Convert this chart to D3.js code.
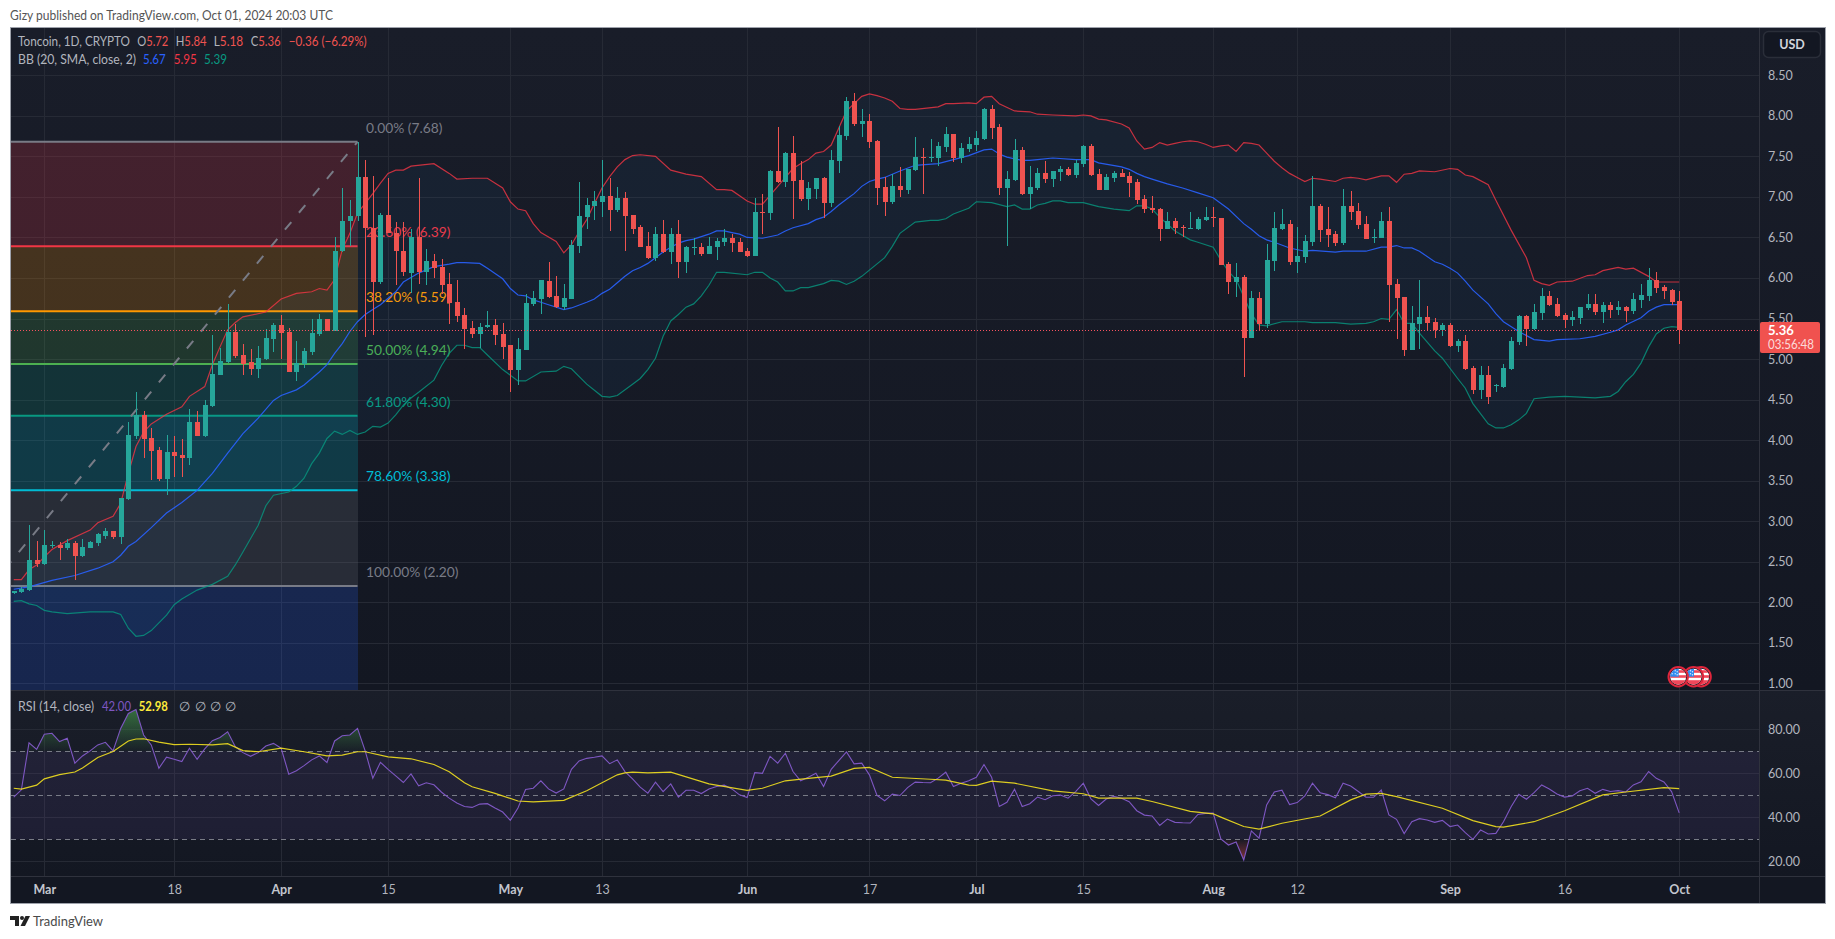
<!DOCTYPE html>
<html><head><meta charset="utf-8">
<script src="https://cdnjs.cloudflare.com/ajax/libs/d3/7.8.5/d3.min.js"></script>
<style>
html,body{margin:0;padding:0;background:#fff;overflow:hidden}
svg{display:block}
text{font-family:Lato,"Noto Sans",sans-serif}
</style></head><body><svg id="c" width="1835" height="939"></svg>
<script>
// ---------- values ----------
const firstCandleDay = -4;            // days relative to 1 Mar 2024
const opens = [
2.11,2.13,2.15,2.52,2.47,2.70,2.71,2.67,2.73,2.57,
2.67,2.73,2.82,2.88,2.81,3.27,4.05,4.31,4.03,3.88,
3.52,3.85,3.82,3.78,4.22,4.05,4.42,4.80,4.96,5.33,
5.05,4.96,4.88,5.00,5.25,5.42,5.33,4.84,4.94,5.09,
5.31,5.49,5.35,6.33,6.70,6.76,7.25,6.62,5.95,6.78,
6.56,6.33,6.06,6.50,6.07,6.21,6.13,5.93,5.70,5.54,
5.38,5.31,5.39,5.42,5.31,5.17,4.87,5.11,5.68,5.74,
5.96,5.78,5.64,5.74,6.39,6.75,6.89,6.94,7.01,6.84,
6.99,6.78,6.63,6.39,6.25,6.54,6.32,6.54,6.20,6.37,
6.38,6.30,6.38,6.44,6.49,6.44,6.33,6.27,6.81,6.80,
7.32,7.18,7.54,7.21,6.97,7.10,7.23,6.93,7.44,7.75,
8.18,7.90,7.94,7.69,7.12,6.94,7.13,7.09,7.33,7.49,
7.48,7.48,7.62,7.78,7.48,7.59,7.64,7.71,8.08,7.86,
7.11,7.21,7.58,7.04,7.11,7.30,7.22,7.31,7.34,7.27,
7.41,7.63,7.28,7.09,7.23,7.30,7.26,7.18,6.97,6.86,
6.85,6.60,6.70,6.63,6.61,6.60,6.72,6.75,6.74,6.17,
5.95,6.01,5.26,5.75,5.43,6.21,6.60,6.67,6.20,6.26,
6.44,6.89,6.60,6.54,6.43,6.89,6.83,6.67,6.49,6.49,
6.70,5.93,5.77,5.11,5.43,5.52,5.46,5.36,5.42,5.16,
5.22,4.89,4.62,4.80,4.67,4.66,4.88,5.21,5.53,5.37,
5.57,5.78,5.68,5.54,5.48,5.51,5.63,5.68,5.58,5.67,
5.61,5.64,5.59,5.73,5.78,5.98,5.89,5.85,5.72];
const highs = [
2.14,2.19,2.95,2.76,2.89,2.76,2.74,2.78,2.76,2.78,
2.76,2.85,2.91,2.88,3.28,4.22,4.59,4.36,4.15,3.92,
4.06,4.05,4.01,4.38,4.36,4.49,5.30,5.13,5.68,5.43,
5.19,5.12,5.16,5.37,5.44,5.54,5.38,5.22,5.14,5.49,
5.56,5.49,6.50,7.11,6.96,7.68,7.46,7.26,6.80,7.23,
6.69,6.69,6.60,7.23,6.36,6.29,6.23,6.06,5.98,5.63,
5.47,5.44,5.59,5.49,5.44,5.17,5.26,5.80,5.84,5.98,
6.20,6.02,5.93,6.47,7.18,6.99,7.07,7.46,7.23,7.12,
7.06,6.78,6.65,6.57,6.63,6.72,6.62,6.72,6.40,6.49,
6.43,6.51,6.49,6.60,6.54,6.49,6.37,6.99,7.04,7.33,
7.86,7.55,7.75,7.44,7.18,7.23,7.25,7.58,7.87,8.23,
8.28,8.08,8.02,7.70,7.24,7.28,7.37,7.34,7.74,7.60,
7.71,7.68,7.86,7.78,7.67,7.74,7.81,8.10,8.13,7.90,
7.32,7.71,7.62,7.38,7.36,7.44,7.32,7.38,7.37,7.46,
7.64,7.65,7.34,7.28,7.32,7.34,7.31,7.22,7.02,7.01,
6.86,6.81,6.74,6.65,6.81,6.75,6.88,6.88,6.74,6.20,
6.19,6.04,5.84,5.83,6.42,6.81,6.85,6.72,6.63,6.53,
7.26,6.91,6.88,6.58,7.10,7.07,6.93,6.77,6.60,6.81,
6.88,5.99,5.77,5.66,5.98,5.66,5.51,5.44,5.45,5.25,
5.30,4.91,4.91,4.91,4.69,4.94,5.27,5.54,5.54,5.68,
5.88,5.84,5.75,5.57,5.59,5.64,5.80,5.80,5.70,5.70,
5.72,5.65,5.82,5.93,6.12,6.07,5.91,5.86,5.84];
const lows = [
2.10,2.12,2.14,2.44,2.46,2.67,2.52,2.64,2.28,2.56,
2.67,2.69,2.78,2.78,2.72,3.26,4.01,3.78,3.51,3.49,
3.32,3.55,3.55,3.69,4.05,4.04,4.41,4.80,4.95,5.01,
4.80,4.80,4.77,4.99,5.09,5.00,4.84,4.73,4.89,5.05,
5.29,5.34,5.34,6.32,6.39,6.70,5.27,5.30,5.93,6.55,
5.91,6.02,5.81,5.93,5.91,6.00,5.80,5.43,5.46,5.12,
5.26,5.14,5.38,5.17,5.00,4.59,4.68,5.11,5.65,5.56,
5.75,5.63,5.60,5.74,6.31,6.61,6.72,6.75,6.58,6.81,
6.33,6.54,6.38,6.23,6.21,6.31,6.17,6.00,6.06,6.28,
6.27,6.30,6.22,6.39,6.32,6.32,6.26,6.27,6.54,6.72,
7.17,7.12,6.73,6.95,6.84,6.97,6.74,6.87,7.30,7.70,
7.87,7.74,7.60,6.90,6.76,6.91,7.00,7.04,7.32,7.04,
7.43,7.38,7.55,7.43,7.42,7.55,7.57,7.70,7.71,7.02,
6.39,7.20,7.02,6.85,7.09,7.17,7.12,7.20,7.26,7.23,
7.37,7.26,7.09,7.09,7.18,7.25,7.00,6.91,6.80,6.80,
6.46,6.60,6.54,6.51,6.61,6.59,6.70,6.63,6.16,5.80,
5.77,4.78,5.26,5.35,5.38,6.09,6.59,6.16,6.06,6.19,
6.40,6.44,6.38,6.40,6.41,6.72,6.60,6.48,6.43,6.49,
5.46,5.25,5.04,5.11,5.12,5.36,5.26,5.29,5.15,5.09,
4.87,4.57,4.51,4.45,4.59,4.64,4.87,5.17,5.16,5.36,
5.48,5.66,5.52,5.38,5.41,5.43,5.61,5.54,5.45,5.51,
5.54,5.46,5.56,5.63,5.72,5.82,5.74,5.67,5.18];
const closes = [
2.14,2.16,2.52,2.47,2.71,2.71,2.67,2.73,2.57,2.68,
2.74,2.84,2.88,2.81,3.28,4.06,4.31,4.01,3.87,3.52,
3.85,3.80,3.78,4.22,4.05,4.43,4.82,4.98,5.33,5.04,
4.94,4.88,5.01,5.26,5.42,5.32,4.84,4.95,5.10,5.32,
5.49,5.35,6.33,6.70,6.77,7.25,6.62,5.95,6.78,6.56,
6.33,6.07,6.50,6.07,6.21,6.12,5.91,5.69,5.53,5.37,
5.31,5.39,5.42,5.30,5.15,4.87,5.12,5.69,5.75,5.97,
5.76,5.64,5.75,6.41,6.76,6.90,6.95,7.01,6.84,6.99,
6.76,6.60,6.38,6.25,6.54,6.32,6.54,6.20,6.38,6.38,
6.30,6.39,6.46,6.49,6.43,6.32,6.27,6.81,6.80,7.32,
7.18,7.54,7.20,6.97,7.11,7.23,6.93,7.46,7.76,8.18,
7.90,7.94,7.68,7.11,6.94,7.13,7.09,7.34,7.49,7.48,
7.49,7.63,7.78,7.48,7.60,7.65,7.73,8.08,7.85,7.11,
7.22,7.58,7.04,7.12,7.30,7.22,7.32,7.34,7.27,7.42,
7.63,7.27,7.09,7.25,7.30,7.25,7.17,6.96,6.85,6.84,
6.60,6.70,6.62,6.62,6.62,6.73,6.75,6.74,6.16,5.95,
6.01,5.26,5.75,5.43,6.22,6.62,6.67,6.20,6.27,6.46,
6.89,6.59,6.53,6.43,6.89,6.81,6.65,6.48,6.51,6.70,
5.91,5.75,5.11,5.45,5.52,5.45,5.36,5.42,5.16,5.22,
4.88,4.62,4.80,4.53,4.68,4.89,5.22,5.53,5.37,5.58,
5.78,5.67,5.53,5.48,5.52,5.64,5.68,5.58,5.67,5.61,
5.64,5.59,5.74,5.79,5.98,5.88,5.84,5.70,5.36];

// [day, value]
const bbUpper = [[-4,2.28],[-3,2.28],[-2,2.40],[-1,2.46],[0,2.56],[1,2.65],[3,2.76],[6,2.89],[7,2.98],[9,3.06],[10,3.22],[11,3.59],[12,3.92],[13,4.10],[14,4.20],[16,4.32],[18,4.41],[19,4.54],[21,4.66],[22,4.93],[23,5.15],[24,5.36],[25,5.45],[26,5.52],[29,5.58],[31,5.74],[33,5.81],[35,5.83],[36,5.87],[37,5.85],[38,5.98],[39,6.35],[40,6.55],[41,6.80],[43,7.04],[44,7.17],[45,7.29],[46,7.33],[47,7.33],[48,7.38],[51,7.41],[53,7.29],[54,7.22],[56,7.23],[58,7.23],[60,7.11],[61,6.94],[62,6.85],[63,6.83],[64,6.67],[65,6.56],[67,6.45],[68,6.31],[69,6.41],[70,6.57],[71,6.72],[72,6.92],[73,7.11],[74,7.25],[75,7.37],[76,7.46],[77,7.51],[78,7.52],[80,7.50],[82,7.33],[84,7.28],[86,7.25],[88,7.09],[89,7.09],[90,7.08],[92,6.95],[93,6.91],[94,6.91],[95,7.02],[96,7.13],[98,7.35],[99,7.41],[100,7.46],[101,7.54],[102,7.56],[103,7.64],[104,7.85],[105,8.06],[106,8.15],[107,8.24],[108,8.27],[109,8.25],[110,8.22],[111,8.18],[112,8.09],[113,8.08],[114,8.08],[117,8.11],[118,8.15],[119,8.15],[121,8.16],[122,8.15],[123,8.23],[124,8.24],[125,8.15],[127,8.06],[129,8.05],[130,8.02],[132,8.01],[135,8.00],[136,8.01],[137,8.00],[138,7.96],[139,7.95],[141,7.90],[142,7.85],[143,7.69],[144,7.59],[145,7.61],[146,7.67],[147,7.64],[148,7.66],[149,7.68],[150,7.69],[151,7.68],[152,7.65],[153,7.61],[154,7.63],[155,7.64],[156,7.56],[157,7.67],[158,7.66],[159,7.64],[160,7.54],[161,7.44],[162,7.36],[163,7.29],[164,7.24],[165,7.19],[166,7.23],[167,7.22],[169,7.19],[170,7.23],[171,7.24],[172,7.23],[173,7.21],[175,7.26],[176,7.26],[177,7.18],[178,7.28],[179,7.29],[180,7.32],[182,7.31],[184,7.35],[185,7.34],[186,7.27],[187,7.25],[189,7.15],[190,6.96],[192,6.59],[194,6.25],[195,5.97],[196,5.93],[197,5.91],[198,5.95],[200,5.96],[202,6.03],[203,6.04],[204,6.09],[206,6.13],[207,6.11],[208,6.12],[210,6.02],[211,5.95],[214,5.95]];
const bbBasis = [[-4,2.16],[-2,2.19],[1,2.27],[4,2.33],[7,2.42],[9,2.50],[10,2.58],[11,2.69],[12,2.75],[14,2.92],[16,3.10],[18,3.23],[20,3.38],[22,3.59],[24,3.84],[26,4.08],[28,4.27],[30,4.49],[31,4.55],[33,4.62],[34,4.68],[36,4.84],[37,4.93],[38,5.07],[39,5.19],[40,5.34],[41,5.46],[42,5.55],[43,5.61],[44,5.67],[45,5.75],[46,5.83],[47,5.95],[49,6.06],[51,6.14],[53,6.17],[54,6.19],[55,6.19],[57,6.18],[58,6.12],[60,5.99],[61,5.87],[62,5.79],[63,5.78],[64,5.73],[65,5.70],[66,5.67],[68,5.61],[69,5.63],[71,5.70],[72,5.74],[73,5.81],[74,5.86],[75,5.94],[76,6.02],[77,6.09],[78,6.13],[79,6.18],[80,6.25],[81,6.32],[82,6.38],[83,6.43],[84,6.46],[85,6.48],[86,6.51],[87,6.54],[88,6.58],[89,6.58],[90,6.56],[91,6.54],[92,6.50],[94,6.49],[96,6.53],[97,6.58],[98,6.62],[100,6.67],[101,6.72],[102,6.75],[103,6.82],[104,6.90],[105,6.97],[106,7.04],[107,7.13],[108,7.19],[109,7.22],[110,7.24],[111,7.28],[112,7.32],[114,7.39],[117,7.41],[119,7.46],[121,7.51],[123,7.58],[124,7.59],[125,7.53],[126,7.49],[128,7.45],[129,7.45],[130,7.46],[132,7.48],[135,7.46],[137,7.46],[138,7.42],[141,7.37],[142,7.34],[143,7.29],[144,7.25],[145,7.22],[147,7.16],[149,7.11],[151,7.05],[153,6.99],[155,6.85],[157,6.67],[158,6.60],[159,6.52],[160,6.47],[161,6.44],[163,6.37],[165,6.33],[166,6.34],[169,6.32],[170,6.33],[172,6.33],[173,6.33],[175,6.38],[176,6.38],[177,6.40],[178,6.37],[179,6.37],[180,6.33],[182,6.20],[183,6.17],[184,6.12],[185,6.06],[186,5.96],[187,5.85],[189,5.68],[190,5.56],[191,5.46],[193,5.34],[195,5.24],[197,5.22],[198,5.24],[201,5.25],[203,5.28],[205,5.33],[206,5.36],[207,5.42],[209,5.51],[210,5.59],[211,5.64],[212,5.67],[214,5.67]];
const bbLower = [[-4,2.01],[-3,2.02],[-2,1.98],[-1,1.96],[0,1.90],[1,1.88],[3,1.86],[6,1.88],[9,1.88],[10,1.85],[11,1.68],[12,1.58],[13,1.59],[14,1.65],[16,1.84],[17,1.97],[18,2.04],[20,2.15],[22,2.22],[24,2.32],[25,2.46],[26,2.62],[28,2.95],[29,3.19],[30,3.32],[32,3.36],[33,3.43],[34,3.53],[35,3.71],[36,3.84],[37,4.02],[38,4.11],[39,4.07],[40,4.12],[41,4.07],[42,4.10],[43,4.17],[44,4.16],[45,4.21],[46,4.31],[47,4.43],[48,4.52],[49,4.59],[51,4.74],[52,4.92],[53,5.07],[54,5.17],[55,5.17],[56,5.14],[57,5.14],[58,5.05],[60,4.87],[62,4.73],[63,4.73],[65,4.84],[67,4.85],[68,4.91],[69,4.88],[71,4.69],[73,4.54],[74,4.53],[75,4.55],[77,4.69],[78,4.76],[79,4.87],[80,5.01],[81,5.28],[82,5.47],[83,5.55],[84,5.64],[85,5.68],[86,5.78],[87,5.91],[88,6.07],[89,6.07],[92,6.04],[93,6.07],[94,6.07],[95,6.00],[96,5.95],[97,5.84],[98,5.84],[99,5.88],[100,5.88],[102,5.93],[103,5.97],[104,5.96],[105,5.92],[106,5.96],[107,6.02],[110,6.25],[111,6.39],[112,6.55],[114,6.69],[116,6.71],[117,6.71],[118,6.73],[119,6.79],[121,6.86],[122,6.94],[124,6.93],[126,6.88],[127,6.90],[128,6.85],[129,6.85],[130,6.90],[131,6.92],[132,6.95],[133,6.95],[134,6.93],[136,6.93],[138,6.88],[140,6.85],[142,6.83],[143,6.89],[144,6.89],[145,6.85],[146,6.75],[148,6.58],[150,6.47],[151,6.44],[153,6.38],[154,6.22],[155,6.08],[156,5.98],[157,5.77],[158,5.56],[159,5.42],[160,5.41],[162,5.46],[165,5.46],[166,5.45],[169,5.45],[171,5.43],[173,5.44],[174,5.46],[175,5.50],[176,5.49],[177,5.61],[178,5.44],[179,5.44],[180,5.32],[182,5.10],[183,5.01],[185,4.76],[186,4.64],[187,4.45],[189,4.20],[190,4.15],[191,4.15],[192,4.19],[193,4.25],[194,4.33],[195,4.51],[197,4.53],[199,4.54],[203,4.52],[205,4.54],[206,4.60],[207,4.72],[208,4.81],[209,4.95],[210,5.15],[211,5.31],[212,5.38],[213,5.40],[214,5.39]];

const rsiValues = [
49.2,52.5,73.9,70.9,77.8,78.2,74.4,75.9,64.6,67.9,
70.2,72.9,74.1,70.2,80.4,87.2,89,77.4,72.9,62.3,
67.3,66.4,65.3,71.4,66.4,71.1,74.8,76.3,78.9,72.1,
69.4,67.7,69.4,72.4,73.6,71.4,59.6,61.2,63.5,66.1,
67.9,64.9,74.7,77.1,77.4,80.4,70.2,57.8,65,61.8,
58.8,55.8,59.7,54.3,55.7,54.8,51.4,48.7,46.5,44.9,
44.5,46,46.2,44.2,42.4,38.6,44.2,52.6,53.2,56.6,
52.9,51,52.9,61.8,65.6,66.8,67.3,67.9,64.4,66.1,
60.8,57.5,53.7,51,56,51.7,55.2,49.2,52.3,52.3,
50.8,52.9,54,54.6,52.9,50.2,49,60.3,60,67.7,
64.6,69.1,60.8,56.6,58.2,60,54,61.8,65.8,69.7,
64.3,64.6,59.3,49.9,47.5,50.5,49.9,53.5,56,55.8,
55.7,57.8,60.5,54,55.5,56.6,58.2,64,58.2,44.9,
46.8,52.8,44.9,46.2,49.2,48,49.8,50.1,48.7,51.7,
55.5,48.4,45.4,48.3,49.5,48.7,47.1,43,41,40.6,
36.3,39.2,37.7,37.5,37.4,41.3,41.8,41.9,
30.2,27.4,28.8,20.6,33.8,30.5,45.6,51.5,52.3,45.8,
46.7,49.7,55.5,51.2,50.3,48.9,55.5,54.2,51.7,49.1,
49.1,52.4,41.1,39.1,32.6,38,39.4,38.8,37.7,38.6,
35.8,36.5,33,30,34.2,32.4,32.7,38,44.8,50.5,
48.2,51.2,54.7,52.9,50.6,49.2,49.7,52.1,53.2,50.9,
52.7,51.7,52.1,51.5,54.7,56.1,60.8,57.7,56.1,51.7,42];
const rsiMa = [[-4,53.2],[-3,52.8],[-1,54.6],[0,57.5],[2,59.4],[4,60.6],[5,62.4],[7,67.2],[9,69.9],[11,74.7],[12,75.6],[13,75.7],[15,74.2],[17,73],[19,73.2],[22,72.9],[24,73.5],[26,70.3],[28,69.8],[31,71.4],[34,69.8],[37,67.9],[39,68.3],[41,69.8],[42,69.8],[45,67.5],[48,66.6],[51,64],[53,60.7],[55,55.7],[56,53.9],[59,50.9],[62,47.4],[64,47],[68,47.7],[71,52.1],[75,59.3],[76,60.2],[77,60.5],[79,60.2],[82,60.5],[87,55.2],[92,52.2],[94,53.2],[97,56.6],[100,57.7],[103,58.7],[106,62.2],[108,62.7],[111,58.2],[116,57.3],[118,56.9],[121,54.6],[122,54.5],[124,56.4],[127,55.5],[132,52],[136,50.7],[138,48.7],[143,48.7],[145,47.2],[150,42.7],[153,41.6],[154,40.1],[157,35.8],[159,34.6],[162,37.3],[167,40.6],[171,47.9],[173,50.5],[175,50.9],[177,49.4],[183,44.1],[187,38.5],[190,35.8],[191,35.5],[195,38],[199,43],[204,50.2],[207,51.5],[212,53.5],[214,53]];

const priceTicks = [1,1.5,2,2.5,3,3.5,4,4.5,5,5.5,6,6.5,7,7.5,8,8.5];
const rsiTicks = [20,40,60,80];
const rsiBands = [70,50,30];
const timeTickDays = [0,17,31,45,61,73,92,108,122,136,153,164,184,199,214];
const timeTickLabels = ["Mar","18","Apr","15","May","13","Jun","17","Jul","15","Aug","12","Sep","16","Oct"];
const monthLabels = ["Mar","Apr","May","Jun","Jul","Aug","Sep","Oct"];
const fibRatios = ["0.00%","23.60%","38.20%","50.00%","61.80%","78.60%","100.00%","161.80%"];
const fibValues = [7.68,6.39,5.59,4.94,4.30,3.38,2.20,-1.19];
const fibColors = ["#787b86","#f23645","#ff9800","#4caf50","#089981","#00bcd4","#787b86","#2962ff"];
const fibStart = [-7,2.20], fibEnd = [41,7.68];
const lastPrice = 5.36, countdown = "03:56:48";
const eventDays = [217,216,214];

// ---------- layout ----------
const L=11,R=1759,Ttop=28,paneBot=690,rsiBot=876,frameBot=903,frameR=1825;
const svg=d3.select("#c");
const defs=svg.append("defs");
function grad(id,stops,attrs){const g=defs.append("linearGradient").attr("id",id).attr("x1",0).attr("x2",0).attr("y1",0).attr("y2",1);
  if(attrs){g.attr("gradientUnits","userSpaceOnUse").attr("x1",0).attr("x2",0).attr("y1",attrs[0]).attr("y2",attrs[1]);}
  stops.forEach(s=>g.append("stop").attr("offset",s[0]).attr("stop-color",s[1]).attr("stop-opacity",s[2]===undefined?1:s[2]));}
grad("bgMain",[[0,"#191d29"],[1,"#131722"]]);
grad("bgRsi",[[0,"#1a1e29"],[1,"#131722"]]);

const mar1=new Date(Date.UTC(2024,2,1));
const dayDate=d=>d3.utcDay.offset(mar1,d);
const x=d3.scaleUtc().domain([dayDate(0),dayDate(214)]).range([44.3,1679.2]);
const xd=d=>x(dayDate(d));
const y=d3.scaleLinear().domain([8.5,1]).range([75.3,683.3]);
const yr=d3.scaleLinear().domain([80,20]).range([729.3,861.3]);
const TXT="#b2b5be";

// frame + backgrounds
svg.append("rect").attr("x",10.5).attr("y",27.5).attr("width",frameR-10).attr("height",frameBot-27).attr("fill","#131722").attr("stroke","#9ea2ab");
svg.append("rect").attr("x",L).attr("y",Ttop).attr("width",frameR-L).attr("height",paneBot-Ttop).attr("fill","url(#bgMain)");
svg.append("rect").attr("x",L).attr("y",paneBot).attr("width",frameR-L).attr("height",rsiBot-paneBot).attr("fill","url(#bgRsi)");

defs.append("clipPath").attr("id","cpMain").append("rect").attr("x",L).attr("y",Ttop).attr("width",R-L).attr("height",paneBot-Ttop);
defs.append("clipPath").attr("id","cpRsi").append("rect").attr("x",L).attr("y",paneBot).attr("width",R-L).attr("height",rsiBot-paneBot);
const gridColor="#262a35";

// grid
const grid=svg.append("g").attr("shape-rendering","crispEdges").attr("stroke",gridColor);
grid.selectAll(".v").data(timeTickDays).join("line").attr("x1",d=>Math.round(xd(d))+.5).attr("x2",d=>Math.round(xd(d))+.5).attr("y1",Ttop).attr("y2",rsiBot);
grid.selectAll(".h").data(priceTicks).join("line").attr("x1",L).attr("x2",R).attr("y1",d=>Math.round(y(d))+.5).attr("y2",d=>Math.round(y(d))+.5);
grid.selectAll(".r").data(rsiTicks).join("line").attr("x1",L).attr("x2",R).attr("y1",d=>Math.round(yr(d))+.5).attr("y2",d=>Math.round(yr(d))+.5);

const main=svg.append("g").attr("clip-path","url(#cpMain)");

// fib: each band takes the colour of the level below it
const fibG=main.append("g");
const fibRows=fibValues.map((v,i)=>({v,c:fibColors[i],r:fibRatios[i],i}));
fibG.selectAll("rect").data(fibRows.slice(0,-1)).join("rect")
  .attr("x",xd(fibStart[0])).attr("width",xd(fibEnd[0])-xd(fibStart[0]))
  .attr("y",d=>y(d.v)).attr("height",d=>y(fibValues[d.i+1])-y(d.v))
  .attr("fill",d=>fibColors[d.i+1]).attr("fill-opacity",.2).attr("shape-rendering","crispEdges");
fibG.selectAll("line").data(fibRows.slice(0,-1)).join("line")
  .attr("x1",xd(fibStart[0])).attr("x2",xd(fibEnd[0])).attr("y1",d=>y(d.v)).attr("y2",d=>y(d.v))
  .attr("stroke",d=>d.c).attr("stroke-width",2);
fibG.append("path").attr("d",d3.line().x(d=>xd(d[0])).y(d=>y(d[1]))([fibStart,fibEnd]))
  .attr("fill","none").attr("stroke","#787b86").attr("stroke-width",2).attr("stroke-dasharray","10 12");
fibG.selectAll("text").data(fibRows.slice(0,-1)).join("text")
  .attr("x",xd(fibEnd[0])+8.5).attr("y",d=>y(d.v)-14).attr("dy",".35em")
  .attr("fill",d=>d.c).attr("font-size",13.8).text(d=>`${d.r} (${d.v.toFixed(2)})`);

// Bollinger
const bbLine=d3.line().x(d=>xd(d[0])).y(d=>y(d[1]));
main.append("path").attr("d",bbLine([...bbUpper,...bbLower.slice().reverse()])).attr("fill","#2196f3").attr("fill-opacity",.05);
main.append("path").attr("d",bbLine(bbUpper)).attr("fill","none").attr("stroke","#f23645").attr("stroke-opacity",.8).attr("stroke-width",1.2);
main.append("path").attr("d",bbLine(bbBasis)).attr("fill","none").attr("stroke","#2962ff").attr("stroke-opacity",.9).attr("stroke-width",1.2);
main.append("path").attr("d",bbLine(bbLower)).attr("fill","none").attr("stroke","#089981").attr("stroke-opacity",.8).attr("stroke-width",1.2);

// candles
const candles=opens.map((o,i)=>({d:firstCandleDay+i,o,h:highs[i],l:lows[i],c:closes[i]}));
const cg=main.append("g").attr("shape-rendering","crispEdges");
const col=d=>d.c>=d.o?"#26a69a":"#ef5350";
cg.selectAll(".w").data(candles).join("rect").attr("x",d=>Math.round(xd(d.d))).attr("width",1)
  .attr("y",d=>y(d.h)).attr("height",d=>y(d.l)-y(d.h)).attr("fill",col);
cg.selectAll(".b").data(candles).join("rect").attr("x",d=>Math.round(xd(d.d))-2).attr("width",5)
  .attr("y",d=>y(Math.max(d.o,d.c))).attr("height",d=>Math.max(1,Math.abs(y(d.o)-y(d.c)))).attr("fill",col);

// last price line
svg.append("line").attr("x1",L).attr("x2",R).attr("y1",Math.round(y(lastPrice))+.5).attr("y2",Math.round(y(lastPrice))+.5)
  .attr("stroke","#f7525f").attr("stroke-dasharray","1 2");

// events
const evG=svg.append("g").attr("clip-path","url(#cpMain)");
eventDays.forEach((d,k)=>{
  const cx=xd(d)-1,cy=676.7,id="fl"+k;
  defs.append("clipPath").attr("id",id).append("circle").attr("cx",cx).attr("cy",cy).attr("r",8);
  const g=evG.append("g");
  g.append("circle").attr("cx",cx).attr("cy",cy).attr("r",9.7).attr("fill","#131722").attr("stroke","#e0263c").attr("stroke-width",2);
  const f=g.append("g").attr("clip-path",`url(#${id})`);
  f.append("rect").attr("x",cx-9).attr("y",cy-9).attr("width",18).attr("height",18).attr("fill","#fff");
  [-6.5,-1.5,3.5].forEach(o=>f.append("rect").attr("x",cx-9).attr("y",cy+o).attr("width",18).attr("height",o>3?5:2.6).attr("fill","#f0475a"));
  f.append("rect").attr("x",cx-9).attr("y",cy-9).attr("width",9.5).attr("height",9).attr("fill","#2f8cf0");
  [[-6,-6],[-3,-6],[-6,-3],[-3,-3],[-1,-5],[-1,-2]].forEach(p=>f.append("circle").attr("cx",cx+p[0]).attr("cy",cy+p[1]).attr("r",.7).attr("fill","#dbe9ff"));
});

// RSI
const rsiG=svg.append("g").attr("clip-path","url(#cpRsi)");
rsiG.append("rect").attr("x",L).attr("width",R-L).attr("y",yr(70)).attr("height",yr(30)-yr(70)).attr("fill","#7e57c2").attr("fill-opacity",.1);
rsiG.selectAll(".lvl").data(rsiBands).join("line").attr("x1",L).attr("x2",R).attr("y1",d=>Math.round(yr(d))+.5).attr("y2",d=>Math.round(yr(d))+.5)
  .attr("stroke","#787b86").attr("stroke-dasharray","5 4").attr("shape-rendering","crispEdges");
const rsiPts=rsiValues.map((v,i)=>[firstCandleDay+i,v]);
grad("gOver",[[0,"#4caf50",.55],[1,"#4caf50",.02]],[yr(89),yr(70)]);
grad("gUnder",[[0,"#ff5252",.02],[1,"#ff5252",.5]],[yr(30),yr(20)]);
defs.append("clipPath").attr("id","cpOver").append("rect").attr("x",L).attr("width",R-L).attr("y",paneBot).attr("height",yr(70)-paneBot);
defs.append("clipPath").attr("id","cpUnder").append("rect").attr("x",L).attr("width",R-L).attr("y",yr(30)).attr("height",rsiBot-yr(30));
rsiG.append("path").attr("clip-path","url(#cpOver)").attr("fill","url(#gOver)")
  .attr("d",d3.area().x(d=>xd(d[0])).y0(yr(70)).y1(d=>yr(d[1]))(rsiPts));
rsiG.append("path").attr("clip-path","url(#cpUnder)").attr("fill","url(#gUnder)")
  .attr("d",d3.area().x(d=>xd(d[0])).y0(yr(30)).y1(d=>yr(d[1]))(rsiPts));
const rLine=d3.line().x(d=>xd(d[0])).y(d=>yr(d[1]));
rsiG.append("path").attr("d",rLine(rsiPts)).attr("fill","none").attr("stroke","#7e57c2").attr("stroke-width",1.1);
rsiG.append("path").attr("d",rLine(rsiMa)).attr("fill","none").attr("stroke","#f2e01f").attr("stroke-opacity",.9).attr("stroke-width",1.2);

// separators
const sep=svg.append("g").attr("stroke","#2f323d").attr("shape-rendering","crispEdges");
sep.append("line").attr("x1",L).attr("x2",frameR).attr("y1",690.5).attr("y2",690.5);
sep.append("line").attr("x1",L).attr("x2",frameR).attr("y1",876.5).attr("y2",876.5);
sep.append("line").attr("x1",R+.5).attr("x2",R+.5).attr("y1",Ttop).attr("y2",frameBot);

// axes
const yAxis=d3.axisRight(y).tickValues(priceTicks).tickFormat(d3.format(".2f")).tickSize(0).tickPadding(0);
const yg=svg.append("g").attr("transform","translate(1768,0)").call(yAxis);
const rAxis=d3.axisRight(yr).tickValues(rsiTicks).tickFormat(d3.format(".2f")).tickSize(0).tickPadding(0);
const rg=svg.append("g").attr("transform","translate(1768,0)").call(rAxis);
const xAxis=d3.axisBottom(x).tickValues(timeTickDays.map(dayDate)).tickFormat((d,i)=>timeTickLabels[i]).tickSize(0).tickPadding(0);
const xg=svg.append("g").attr("transform","translate(0,885)").call(xAxis);
[yg,rg,xg].forEach(g=>{g.select(".domain").remove();g.selectAll("text").attr("fill",TXT).attr("font-size",12.5).attr("font-family","Lato,'Noto Sans',sans-serif");});
xg.selectAll("text").attr("font-weight",(d,i)=>monthLabels.includes(timeTickLabels[i])?700:400).attr("fill",(d,i)=>monthLabels.includes(timeTickLabels[i])?"#c3c6ce":TXT);

// price label
svg.append("rect").attr("x",1760).attr("y",322).attr("width",60).attr("height",31).attr("rx",2).attr("fill","#f0524f");
svg.append("text").attr("x",1768).attr("y",335).attr("fill","#fff").attr("font-size",13).attr("font-weight",700).text(lastPrice.toFixed(2));
svg.append("text").attr("x",1768).attr("y",349).attr("fill","#fff").attr("fill-opacity",.8).attr("font-size",13).attr("textLength",46).attr("lengthAdjust","spacingAndGlyphs").text(countdown);

// USD button
svg.append("rect").attr("x",1763.5).attr("y",31.5).attr("width",57).attr("height",26).attr("rx",5).attr("fill","#131722").attr("stroke","#2a2e39").attr("stroke-width",1.5);
svg.append("text").attr("x",1792).attr("y",49).attr("text-anchor","middle").attr("fill","#d1d4dc").attr("font-size",12.5).attr("font-weight",700).text("USD");

// legends: text fitted to the widths measured in the reference
const put=(tx,ty,s,c,len,w)=>svg.append("text").attr("x",tx).attr("y",ty).attr("dy",".35em").attr("fill",c).attr("font-size",13.5).attr("font-weight",w||400)
  .attr("textLength",len).attr("lengthAdjust","spacingAndGlyphs").text(s);
const RED="#ef5350";
put(18,41.7,"Toncoin, 1D, CRYPTO",TXT,112);
[["O","5.72",137.3,31],["H","5.84",175.7,31],["L","5.18",213.7,29.5],["C","5.36",250.7,30]].forEach(a=>{
  svg.append("text").attr("x",a[2]).attr("y",41.7).attr("dy",".35em").attr("font-size",13.5).attr("fill",TXT)
   .attr("textLength",a[3]).attr("lengthAdjust","spacingAndGlyphs")
   .text(a[0]).append("tspan").attr("fill",RED).text(a[1]);});
put(288.7,41.7,"−0.36 (−6.29%)",RED,78);
put(18,59,"BB (20, SMA, close, 2)",TXT,118);
put(143,59,"5.67","#2962ff",22.7);put(173.7,59,"5.95","#f23645",23);put(204,59,"5.39","#089981",23);
put(18,706,"RSI (14, close)",TXT,76);
put(102,706,"42.00","#7e57c2",29);put(138.8,706,"52.98","#ffeb3b",29,700);
[179,195,210,225].forEach(px=>svg.append("text").attr("x",px).attr("y",706).attr("dy",".35em").attr("fill",TXT).attr("font-size",13).text("∅"));

// header / footer
svg.append("text").attr("x",10).attr("y",15).attr("dy",".35em").attr("fill","#555").attr("font-size",13).attr("textLength",323).attr("lengthAdjust","spacingAndGlyphs").text("Gizy published on TradingView.com, Oct 01, 2024 20:03 UTC");
const logo=svg.append("g").attr("fill","#222");
logo.append("path").attr("d","M10 916h9v10h-4v-6h-5z");
logo.append("circle").attr("cx",22).attr("cy",918).attr("r",2);
logo.append("path").attr("d","M25.5 916h4.5l-5 10h-4.5z");
svg.append("text").attr("x",33).attr("y",921).attr("dy",".35em").attr("fill","#4a4a4a").attr("font-size",13).attr("textLength",70).attr("lengthAdjust","spacingAndGlyphs").text("TradingView");
</script></body></html>
